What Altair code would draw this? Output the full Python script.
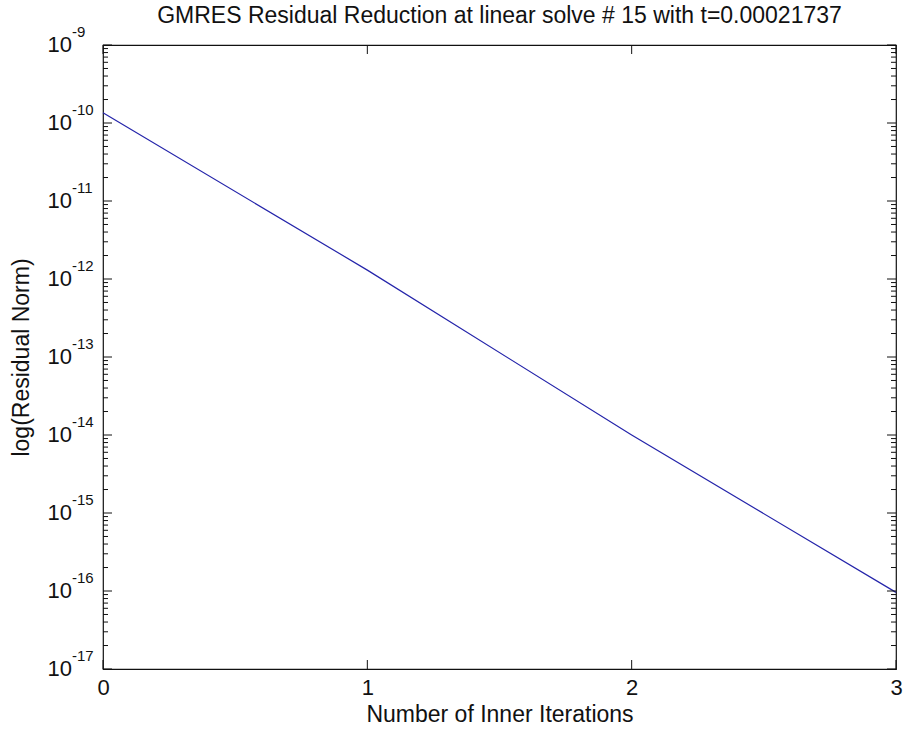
import altair as alt
import pandas as pd

# ---- data ----
iterations = [0, 1, 2, 3]
residuals = [1.35e-10, 1.3e-12, 1.0e-14, 9.6e-17]

x_ticks = [0, 1, 2, 3]
y_exponents = list(range(-17, -8))  # 10^-17 .. 10^-9

title_text = "GMRES Residual Reduction at linear solve # 15 with t=0.00021737"
x_title = "Number of Inner Iterations"
y_title = "log(Residual Norm)"

# ---- layout / style ----
W, H = 793, 624
FONT = "Liberation Sans"
MAJ, MIN = 9, 5
LAB_FS, TITLE_FS, EXP_FS = 22, 23, 15

line_df = pd.DataFrame({"it": iterations, "res": residuals})
major_df = pd.DataFrame({"v": [10.0 ** k for k in y_exponents]})
minor_df = pd.DataFrame({"v": [m * 10.0 ** k for k in y_exponents[:-1] for m in range(2, 10)]})
xt_df = pd.DataFrame({"x": x_ticks})
lab_df = pd.DataFrame({
    "v": [10.0 ** k for k in y_exponents],
    "base": ["10"] * len(y_exponents),
    "exp": [str(k) for k in y_exponents],
})

xs = alt.Scale(domain=[0, 3], nice=False, zero=False)
ys = alt.Scale(type="log", domain=[1e-17, 1e-9], nice=False)

xaxis = alt.Axis(
    values=x_ticks, format="d", ticks=False, domain=False, grid=False,
    labelFontSize=LAB_FS, labelFont=FONT, labelColor="#111", labelPadding=8,
    labelFlush=False, title=x_title, titleFontSize=TITLE_FS, titleFont=FONT,
    titleFontWeight="normal", titlePadding=5, titleColor="#111")
yaxis = alt.Axis(
    labels=False, ticks=False, domain=False, grid=False, title=y_title,
    titleFontSize=TITLE_FS, titleFont=FONT, titleFontWeight="normal",
    titlePadding=70, titleColor="#111")

line = alt.Chart(line_df).mark_line(color="#2424aa", strokeWidth=1.2).encode(
    x=alt.X("it:Q", scale=xs, axis=xaxis),
    y=alt.Y("res:Q", scale=ys, axis=yaxis),
)


def yrules(df, x1, x2):
    return alt.Chart(df).mark_rule(color="#111", strokeWidth=1).encode(
        y=alt.Y("v:Q", scale=ys, axis=yaxis), x=alt.value(x1), x2=alt.value(x2))


def xrules(y1, y2):
    return alt.Chart(xt_df).mark_rule(color="#111", strokeWidth=1).encode(
        x=alt.X("x:Q", scale=xs, axis=xaxis), y=alt.value(y1), y2=alt.value(y2))


ticks = [
    yrules(major_df, 0, MAJ), yrules(minor_df, 0, MIN),
    yrules(major_df, W, W - MAJ), yrules(minor_df, W, W - MIN),
    xrules(H, H - MAJ), xrules(0, MAJ),
]

base_lab = alt.Chart(lab_df).mark_text(
    align="right", baseline="middle", fontSize=LAB_FS, font=FONT, color="#111"
).encode(y=alt.Y("v:Q", scale=ys, axis=yaxis), x=alt.value(-31), text="base:N")

exp_lab = alt.Chart(lab_df).mark_text(
    align="left", baseline="middle", fontSize=EXP_FS, font=FONT, color="#111", dy=-13
).encode(y=alt.Y("v:Q", scale=ys, axis=yaxis), x=alt.value(-31), text="exp:N")

chart = alt.layer(line, *ticks, base_lab, exp_lab).properties(
    width=W, height=H,
    title=alt.TitleParams(title_text, fontSize=TITLE_FS, font=FONT, fontWeight="normal",
                          color="#111", anchor="middle", frame="group",
                          baseline="alphabetic", offset=-21),
    padding={"left": 103, "top": 45, "right": 8, "bottom": 66},
    autosize="none",
    background="white",
).configure_view(stroke="#111", strokeWidth=1.2)

chart.save("out.html", embed_options={"renderer": "svg", "actions": False})
